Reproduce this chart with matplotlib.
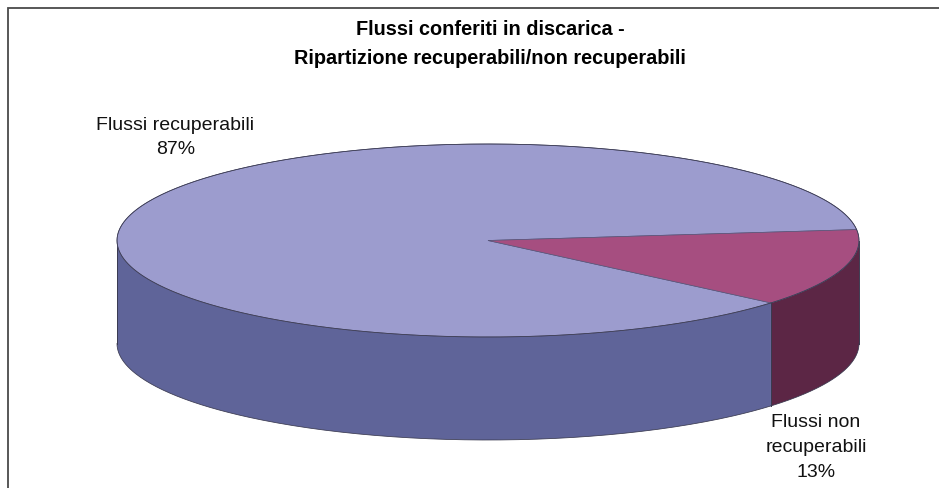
import numpy as np
import matplotlib
matplotlib.use("Agg")
import matplotlib.pyplot as plt

plt.rcParams['font.family'] = ['Liberation Sans', 'DejaVu Sans']

categories = ["Flussi recuperabili", "Flussi non\nrecuperabili"]
values = [87, 13]
top_colors = ["#9C9CCE", "#A64E80"]
side_colors = ["#5F6499", "#5C2645"]
title = "Flussi conferiti in discarica -\nRipartizione recuperabili/non recuperabili"

W, H = 939, 488
fig = plt.figure(figsize=(W / 100, H / 100), dpi=100, facecolor="white")
ax = fig.add_axes([0, 0, 1, 1])
ax.set_xlim(0, W)
ax.set_ylim(H, 0)
ax.axis("off")

# chart frame: the image crops it on the right and at the bottom
ax.plot([7.5, 7.5, W], [H, 7.5, 7.5], color="#4a4a4a", lw=1.3, solid_joinstyle="miter", zorder=1)

cx, cy, rx, ry, depth = 488, 240.5, 371, 96.5, 103
start = 6.5
EDGE = "#3a3a50"

fracs = np.array(values, float) / sum(values)
edges = start + np.concatenate([[0], np.cumsum(fracs)]) * 360
pt = lambda a, dz=0: (cx + rx * np.cos(np.radians(a)), cy - ry * np.sin(np.radians(a)) + dz)

# side walls: only the visible (front) arc of each slice
for i in range(len(values)):
    lo, hi = max(edges[i], 180), min(edges[i + 1], 360)
    th = np.linspace(lo, hi, 200)
    x, y = pt(th)
    ax.fill(np.r_[x, x[::-1]], np.r_[y, y[::-1] + depth], fc=side_colors[i],
            ec="none", zorder=2)
    ax.plot(x, y + depth, color=EDGE, lw=0.55, zorder=3)
    ax.plot([x[0], x[0]], [y[0], y[0] + depth], color=EDGE, lw=0.7, zorder=3)
    ax.plot([x[-1], x[-1]], [y[-1], y[-1] + depth], color=EDGE, lw=0.7, zorder=3)

# top face
for i in range(len(values)):
    th = np.linspace(edges[i], edges[i + 1], 400)
    x, y = pt(th)
    ax.fill(np.r_[cx, x], np.r_[cy, y], fc=top_colors[i], ec="#55557a", lw=0.5, zorder=4)
    ax.plot(x, y, color=EDGE, lw=0.55, zorder=5)

font = 14
ax.text(175.5, 137.5, f"{categories[0]}\n{values[0]}%", ha="center", va="center",
        fontsize=font, color="#111111", linespacing=1.6, zorder=6)
ax.text(816, 447.5, f"{categories[1]}\n{values[1]}%", ha="center", va="center",
        fontsize=font, color="#111111", linespacing=1.6, zorder=6)
ax.text(490, 44, title, ha="center", va="center", fontsize=14.3, fontweight="bold",
        color="black", linespacing=1.65, zorder=6)

fig.savefig("out.png", dpi=100, facecolor="white")
